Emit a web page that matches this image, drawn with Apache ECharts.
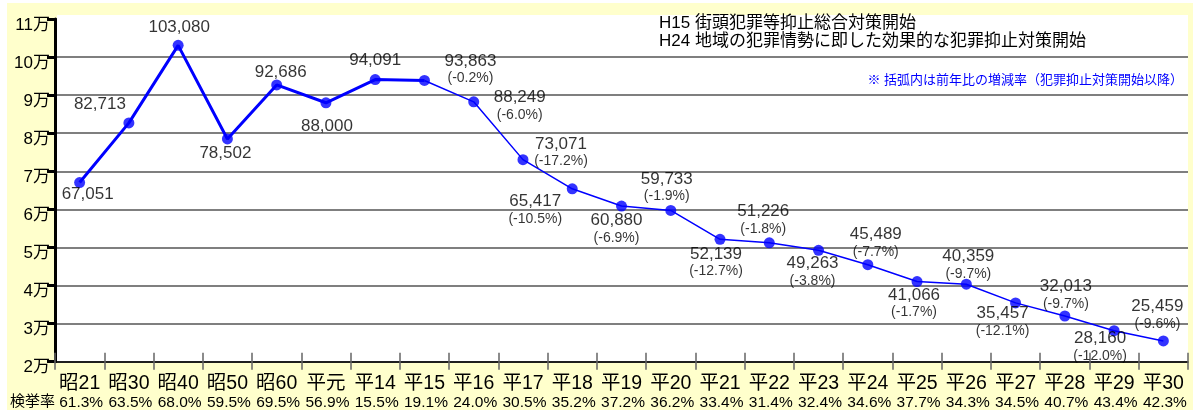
<!DOCTYPE html>
<html>
<head>
<meta charset="utf-8">
<script src="https://cdn.jsdelivr.net/npm/echarts@6/dist/echarts.min.js"></script>
<style>
  html, body { margin: 0; padding: 0; background: #fff; }
  #main { width: 1193px; height: 410px; }
</style>
</head>
<body>
<div id="main"></div>
<script>
// 年次
const categories = ['昭21', '昭30', '昭40', '昭50', '昭60', '平元', '平14', '平15', '平16', '平17', '平18', '平19',
    '平20', '平21', '平22', '平23', '平24', '平25', '平26', '平27', '平28', '平29', '平30'];
// 刑法犯認知件数
const counts = [67051, 82713, 103080, 78502, 92686, 88000, 94091, 93863, 88249, 73071, 65417, 60880,
    59733, 52139, 51226, 49263, 45489, 41066, 40359, 35457, 32013, 28160, 25459];
// 前年比（対策開始以降）
const changes = [null, null, null, null, null, null, null, -0.2, -6.0, -17.2, -10.5, -6.9,
    -1.9, -12.7, -1.8, -3.8, -7.7, -1.7, -9.7, -12.1, -9.7, -12.0, -9.6];
// 検挙率
const arrestRates = [61.3, 63.5, 68.0, 59.5, 69.5, 56.9, 15.5, 19.1, 24.0, 30.5, 35.2, 37.2,
    36.2, 33.4, 31.4, 32.4, 34.6, 37.7, 34.3, 34.5, 40.7, 43.4, 42.3];
// y軸 (2万〜11万)
const yMin = 20000, yMax = 110000, yStep = 10000;
// H15 から細い線
const policyStart = 7;

// ラベルの位置ずらし
const labelOffsets = [[8, 12], [-29, -19], [1, -18], [-2, 14], [4, -13], [1, 24], [0, -19],
    [46, -11], [46, 4], [38, -7], [-37, 21], [-5, 23], [-4, -23], [-4, 23], [-6, -23],
    [-6, 22], [8, -22], [-3, 22], [2, -19], [-13, 19], [1, -21], [-14, 16], [-6, -26]];

const FONT = "'Liberation Sans', 'Noto Sans CJK JP', sans-serif";
const fmt = v => v.toLocaleString('en-US');

var chart = echarts.init(document.getElementById('main'));

var option = {
    backgroundColor: '#ffffcc',
    animation: false,
    textStyle: { fontFamily: FONT },
    grid: {
        left: 55, right: 5, top: 19, bottom: 47,
        show: true, backgroundColor: '#fff', borderWidth: 0
    },
    graphic: [
        { type: 'rect', left: 0, top: 0, shape: { width: 1193, height: 3 }, style: { fill: '#fff' }, silent: true },
        { type: 'rect', left: 0, top: 0, shape: { width: 7, height: 410 }, style: { fill: '#fff' }, silent: true },
        { type: 'rect', left: 57, top: 15, z: 100, shape: { width: 1131, height: 5 }, style: { fill: '#fff' }, silent: true },
        { type: 'text', x: 659, y: 23, z: 101, style: { text: 'H15 街頭犯罪等抑止総合対策開始', font: '17px ' + FONT, fill: '#000', verticalAlign: 'middle' } },
        { type: 'text', x: 659, y: 41, z: 101, style: { text: 'H24 地域の犯罪情勢に即した効果的な犯罪抑止対策開始', font: '17px ' + FONT, fill: '#000', verticalAlign: 'middle' } },
        { type: 'text', x: 1183, y: 80, z: 101, style: { text: '※ 括弧内は前年比の増減率（犯罪抑止対策開始以降）', font: '13px ' + FONT, fill: '#0000ff', align: 'right', verticalAlign: 'middle' } },
        { type: 'text', x: 10, y: 402, z: 101, style: { text: '検挙率', font: '15px ' + FONT, fill: '#000', verticalAlign: 'middle' } }
    ],
    xAxis: [{
        type: 'category',
        data: categories,
        boundaryGap: true,
        axisLine: { lineStyle: { color: '#000', width: 1.5 } },
        axisTick: { show: true, inside: true, length: 9, interval: 0, lineStyle: { color: '#666', width: 1.5 } },
        axisLabel: {
            interval: 0,
            margin: 12,
            formatter: (v, i) => `{c|${v}}\n{r|${arrestRates[i].toFixed(1)}%}`,
            rich: {
                c: { fontSize: 19.5, lineHeight: 20, color: '#000', fontFamily: FONT },
                r: { fontSize: 15.5, lineHeight: 17, color: '#000', fontFamily: FONT, padding: [0, 0, 0, 3] }
            }
        },
        splitLine: { show: false }
    }, {
        type: 'category',
        data: categories,
        position: 'bottom',
        boundaryGap: true,
        axisLine: { show: false },
        axisTick: { show: true, inside: false, length: 8, interval: 0, lineStyle: { color: '#666', width: 1.5 } },
        axisLabel: { show: false },
        splitLine: { show: false }
    }],
    yAxis: {
        type: 'value',
        min: yMin, max: yMax, interval: yStep,
        axisLine: { show: true, lineStyle: { color: '#000', width: 3 } },
        axisTick: { show: true, length: 8, lineStyle: { color: '#000', width: 3 } },
        axisLabel: {
            margin: 5,
            fontSize: 17,
            color: '#000',
            verticalAlign: 'top',
            lineHeight: 12,
            formatter: v => (v / 10000) + '万'
        },
        splitLine: { lineStyle: { color: '#555', width: 1.5 } }
    },
    series: [{
        type: 'line',
        data: counts.map((v, i) => i <= policyStart ? v : '-'),
        showSymbol: false,
        lineStyle: { color: '#0000ff', width: 3 },
        z: 3
    }, {
        type: 'line',
        data: counts.map((v, i) => i >= policyStart ? v : '-'),
        showSymbol: false,
        lineStyle: { color: '#0000ff', width: 1.5 },
        z: 3
    }, {
        type: 'scatter',
        symbol: 'circle',
        symbolSize: 11,
        itemStyle: { color: '#0000ff' },
        z: 4,
        data: counts.map((v, i) => ({ value: v, label: { offset: labelOffsets[i] } })),
        label: {
            show: true,
            position: 'inside',
            formatter: p => {
                const c = changes[p.dataIndex];
                return c === null ? `{v|${fmt(p.value)}}` : `{v|${fmt(p.value)}}\n{p|(${c.toFixed(1)}%)}`;
            },
            rich: {
                v: { fontSize: 17, lineHeight: 18, color: '#000', fontFamily: FONT, align: 'center' },
                p: { fontSize: 14, lineHeight: 17, color: '#000', fontFamily: FONT, align: 'center' }
            }
        }
    }]
};

chart.setOption(option);
</script>
</body>
</html>
